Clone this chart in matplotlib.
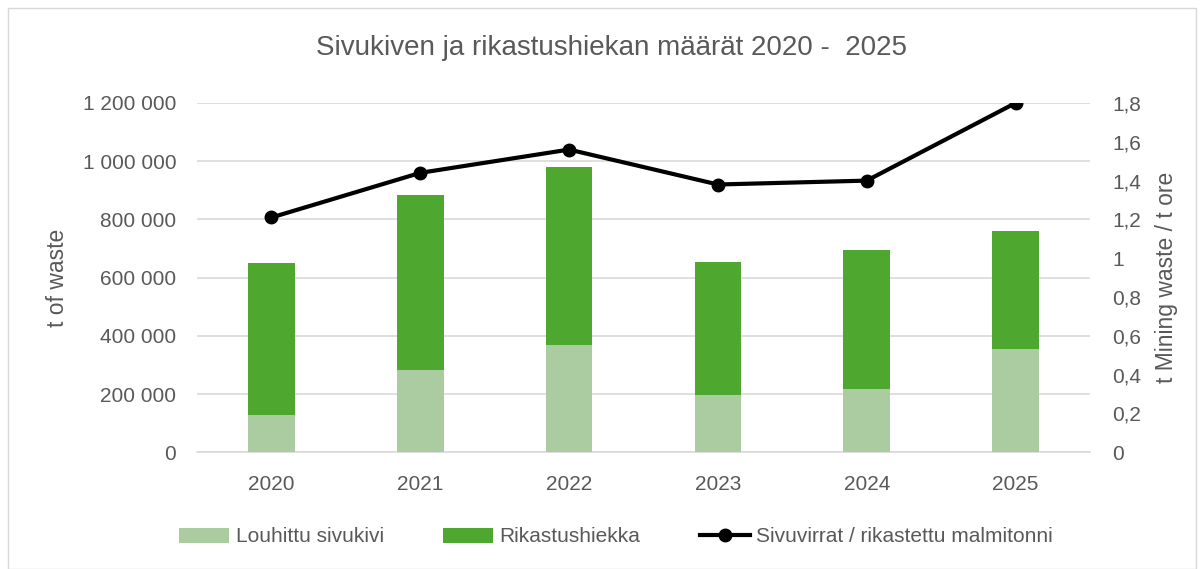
import matplotlib
matplotlib.use("Agg")
import matplotlib.pyplot as plt
from matplotlib.ticker import FuncFormatter, MultipleLocator
from matplotlib.patches import Rectangle
import numpy as np

plt.rcParams['font.family'] = ['Liberation Sans', 'DejaVu Sans']

years = ["2020", "2021", "2022", "2023", "2024", "2025"]
louhittu = [127000, 282000, 368000, 198000, 217000, 354000]
rikastus_total = [650000, 884000, 979000, 655000, 695000, 761000]
rikastus = [t - l for t, l in zip(rikastus_total, louhittu)]
ratio = [1.21, 1.44, 1.56, 1.38, 1.40, 1.80]

W, H = 1203, 569
fig = plt.figure(figsize=(W / 100, H / 100), dpi=100)
ax = fig.add_axes([197 / W, 1 - 452.3 / H, (1090 - 197) / W, (452.3 - 103) / H])
ax2 = ax.twinx()

txt = "#595959"
light = "#abcca1"
dark = "#4ea72e"

x = np.arange(len(years))
bw = 0.314
b1 = ax.bar(x, louhittu, bw, color=light, zorder=3, label="Louhittu sivukivi")
b2 = ax.bar(x, rikastus, bw, bottom=louhittu, color=dark, zorder=3, label="Rikastushiekka")
l1, = ax2.plot(x, ratio, color="black", lw=3, marker="o", ms=9, zorder=5,
               label="Sivuvirrat / rikastettu malmitonni")

ax.set_xlim(-0.5, 5.5)
ax.set_ylim(0, 1200000)
ax2.set_ylim(0, 1.8)
ax.yaxis.set_major_locator(MultipleLocator(200000))
ax2.yaxis.set_major_locator(MultipleLocator(0.2))
ax.yaxis.set_major_formatter(FuncFormatter(lambda v, p: f"{int(round(v)):,}".replace(",", " ")))

def rfmt(v, p):
    s = f"{v:.1f}".replace(".", ",")
    if s.endswith(",0"):
        s = s[:-2]
    return s
ax2.yaxis.set_major_formatter(FuncFormatter(rfmt))

ax.set_xticks(x)
ax.set_xticklabels(years)
ax.grid(axis="y", color="#d9d9d9", lw=1.2, zorder=0)
ax.set_axisbelow(True)
for a in (ax, ax2):
    for s in a.spines.values():
        s.set_visible(False)
    a.tick_params(length=0, colors=txt, labelsize=15)
ax.spines["bottom"].set_visible(True)
ax.spines["bottom"].set_color("#d9d9d9")
ax.spines["bottom"].set_linewidth(1.2)
ax.tick_params(axis="x", pad=16)
ax.tick_params(axis="y", pad=15)
ax2.tick_params(axis="y", pad=16)

ax.set_ylabel("t of waste", color=txt, fontsize=16.5, labelpad=10)
ax2.set_ylabel("t Mining waste / t ore", color=txt, fontsize=16.5, labelpad=10)

fig.text(612 / W, 1 - 48 / H, "Sivukiven ja rikastushiekan määrät 2020 -  2025",
         ha="center", va="center", color=txt, fontsize=20)

leg = fig.legend(handles=[b1, b2, l1], loc="center", bbox_to_anchor=(616 / W, 1 - 537 / H),
                 ncol=3, frameon=False, prop={'size': 15},
                 handlelength=2.4, columnspacing=2.85, handletextpad=0.3)
for t in leg.get_texts():
    t.set_color(txt)

fig.add_artist(Rectangle((8 / W, 0), (1196 - 8) / W, 1 - 8 / H, transform=fig.transFigure,
                         fill=False, edgecolor="#d9d9d9", lw=1))

fig.savefig("out.png", dpi=100)
